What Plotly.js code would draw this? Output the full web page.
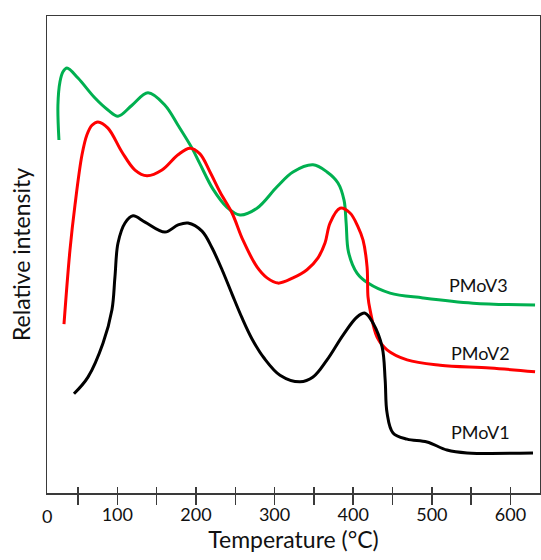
<!DOCTYPE html>
<html>
<head>
<meta charset="utf-8">
<script src="https://cdn.plot.ly/plotly-3.0.1.min.js"></script>
<style>html,body{margin:0;padding:0;background:#fff;}#chart{width:541px;height:560px;}</style>
</head>
<body>
<div id="chart"></div>
<script>
// Temperature (°C) and relative intensity (arbitrary units, 0-100)
const v3T = [25.8, 24.5, 27.1, 30.9, 36.0, 50.0, 71.6, 88.1, 100.9, 118.7, 139.0, 160.6, 177.2, 195.0, 205.1, 221.7, 239.5, 256.0, 277.6, 303.1, 323.4, 348.9, 366.7, 380.6, 388.3, 391.0, 394.0, 404.8, 418.8, 446.8, 488.7, 552.3, 631.2];
const v3I = [74.0, 81.3, 86.2, 88.3, 89.1, 87.0, 82.8, 80.3, 79.0, 81.3, 83.9, 81.3, 77.1, 72.3, 69.0, 63.7, 59.9, 58.3, 59.7, 64.2, 67.3, 68.8, 67.3, 65.0, 61.4, 56.6, 50.5, 46.1, 44.0, 41.9, 40.9, 39.8, 39.4];

const v2T = [32.2, 39.8, 46.2, 55.1, 61.4, 67.8, 75.4, 88.1, 105.9, 122.5, 137.7, 156.8, 177.2, 192.4, 205.1, 217.9, 230.6, 245.9, 259.8, 277.6, 290.4, 304.4, 323.4, 341.2, 355.2, 364.1, 370.5, 383.2, 395.9, 406.1, 412.5, 417.6, 418.8, 421.4, 430.3, 443.0, 468.5, 510.5, 574.0, 631.2];
const v2I = [35.4, 50.9, 60.4, 70.9, 75.1, 77.1, 77.8, 76.5, 71.5, 67.7, 66.5, 67.7, 70.9, 72.3, 71.1, 67.3, 63.1, 58.7, 53.0, 47.4, 45.1, 44.0, 45.1, 46.8, 49.3, 52.4, 56.6, 59.7, 58.7, 55.8, 53.0, 47.4, 41.1, 38.4, 32.7, 30.0, 27.9, 26.8, 26.2, 25.4];

const v1T = [44.9, 62.7, 81.8, 93.2, 97.0, 100.9, 109.8, 120.0, 135.2, 160.6, 177.2, 189.9, 207.7, 220.4, 233.2, 245.9, 258.6, 271.3, 286.6, 306.9, 332.4, 348.9, 366.7, 387.1, 404.9, 415.1, 425.3, 436.8, 440.6, 443.0, 450.6, 468.5, 493.8, 519.3, 544.7, 628.6];
const v1I = [20.8, 24.3, 31.4, 38.4, 45.3, 52.4, 56.6, 58.1, 56.8, 54.7, 56.2, 56.6, 54.9, 51.4, 46.8, 41.7, 36.7, 32.3, 28.3, 24.7, 23.3, 24.3, 27.9, 33.1, 36.9, 37.7, 35.6, 30.6, 23.7, 16.8, 12.6, 11.3, 10.7, 9.0, 8.4, 8.4];

const seriesNames = ["PMoV3", "PMoV2", "PMoV1"];
const labelT = [558.7, 561.2, 561.2];
const labelI = [43.6, 29.4, 12.8];

const tickVals = [50, 100, 150, 200, 250, 300, 350, 400, 450, 500, 550, 600];
const tickText = ["", "100", "", "200", "", "300", "", "400", "", "500", "", "600"];

const xRange = [10.6, 637.5];
const yRange = [0, 100];
const FONT = "Lato, 'Open Sans', sans-serif";
const AX = "#3a3a3a";

const lineStyle = (c) => ({color: c, width: 3, shape: "spline", smoothing: 1});

const traces = [
  {x: v3T, y: v3I, mode: "lines", name: seriesNames[0], line: lineStyle("#00b050"), hoverinfo: "skip"},
  {x: v2T, y: v2I, mode: "lines", name: seriesNames[1], line: lineStyle("#ff0000"), hoverinfo: "skip"},
  {x: v1T, y: v1I, mode: "lines", name: seriesNames[2], line: lineStyle("#000000"), hoverinfo: "skip"},
  {x: [], y: [], xaxis: "x2", yaxis: "y", showlegend: false, hoverinfo: "skip"}
];

const annotations = seriesNames.map((n, i) => ({
  x: labelT[i], y: labelI[i], xref: "x", yref: "y", text: n, showarrow: false,
  font: {family: FONT, size: 18, color: "#111"}
}));
annotations.push({
  x: 0, y: 0, xref: "paper", yref: "paper", text: "0", showarrow: false,
  xanchor: "center", yanchor: "top", yshift: -10,
  font: {family: FONT, size: 18, color: "#111"}
});

const layout = {
  width: 541, height: 560,
  margin: {l: 47, r: 1, t: 16, b: 67},
  paper_bgcolor: "#fff", plot_bgcolor: "#fff",
  showlegend: false,
  font: {family: FONT, color: "#111"},
  xaxis: {
    range: xRange, showgrid: false, zeroline: false,
    showline: true, mirror: true, linecolor: AX, linewidth: 1.5,
    tickmode: "array", tickvals: tickVals, ticktext: tickText,
    ticks: "outside", ticklen: 10, tickwidth: 1.5, tickcolor: AX,
    ticklabelstandoff: -5,
    tickfont: {family: FONT, size: 18, color: "#111"},
    title: {text: "Temperature (°C)", font: {family: FONT, size: 23, color: "#111"}, standoff: 2}
  },
  xaxis2: {
    range: xRange, overlaying: "x", anchor: "y", side: "bottom",
    showgrid: false, zeroline: false, showline: false,
    tickmode: "array", tickvals: tickVals, showticklabels: false,
    ticks: "inside", ticklen: 6, tickwidth: 1.5, tickcolor: AX
  },
  yaxis: {
    range: yRange, showgrid: false, zeroline: false,
    showline: true, mirror: true, linecolor: AX, linewidth: 1.5,
    ticks: "", showticklabels: false,
    title: {text: "Relative intensity", font: {family: FONT, size: 23, color: "#111"}, standoff: 8}
  },
  annotations: annotations
};

Plotly.newPlot("chart", traces, layout, {staticPlot: true, displayModeBar: false});
</script>
</body>
</html>
